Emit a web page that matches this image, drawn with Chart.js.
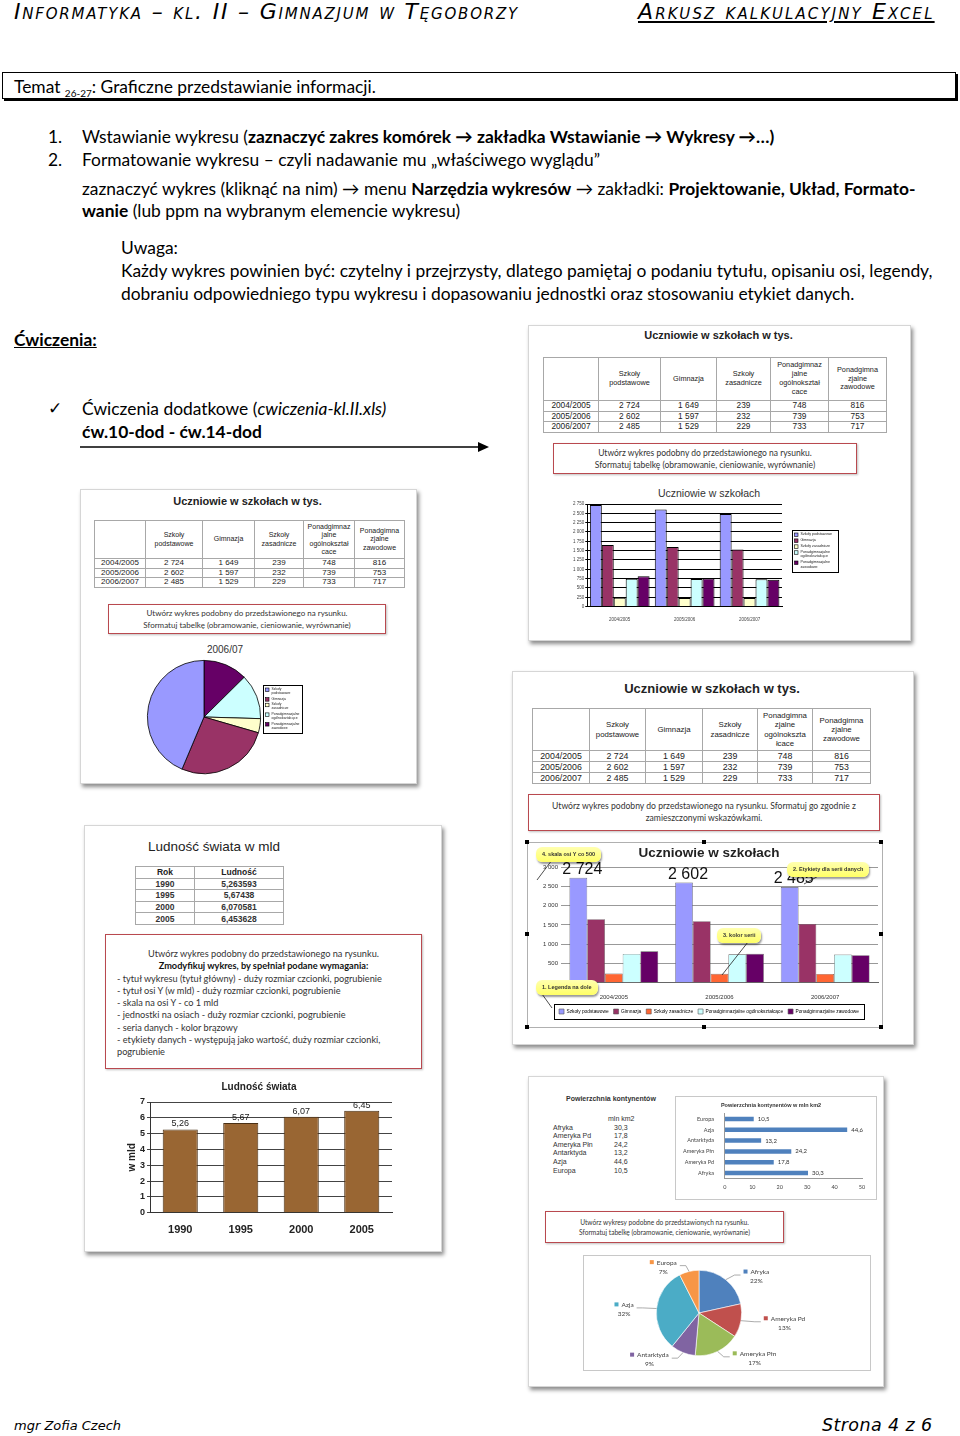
<!DOCTYPE html>
<html lang="pl">
<head>
<meta charset="utf-8">
<title>Graficzne przedstawianie informacji</title>
<script src="https://cdn.jsdelivr.net/npm/chart.js@4.4.1/dist/chart.umd.min.js"></script>
<style>
  html, body { margin: 0; padding: 0; }
  body { width: 960px; height: 1436px; position: relative; overflow: hidden; background: #fff;
         font-family: Lato, "Open Sans", sans-serif; color: #000; }
  .abs { position: absolute; white-space: nowrap; }
  .hdr { font-family: "DejaVu Sans", sans-serif; font-style: italic; font-variant: small-caps; font-size: 22px; line-height: 24px; letter-spacing: 2.1px; }
  .txt { font-size: 17.4px; line-height: 22px; }
  .temat { left: 2px; top: 72px; width: 952px; height: 25px; border: 1.5px solid #000; box-shadow: 2px 2px 0 #000; }
  .panel { position: absolute; background: #fff; border: 1px solid #d6d6d6; box-shadow: 2px 3px 4px rgba(0,0,0,0.45); }
  .arial { font-family: "Liberation Sans", Arial, sans-serif; }
  table.xl { position: absolute; border-collapse: collapse; font-family: "Liberation Sans", Arial, sans-serif; color: #222; table-layout: fixed; }
  table.xl td { border: 1px solid #a8a8a8; text-align: center; padding: 0; overflow: hidden; }
  .redbox { position: absolute; border: 1.5px solid #b9494f; box-shadow: 1px 1px 2px rgba(0,0,0,0.25); background: #fff;
            font-family: Lato, sans-serif; color: #333; text-align: center; }
  .note { position: absolute; background: linear-gradient(#ffffb0, #ffff66); border-radius: 6px; box-shadow: 1px 2px 2px rgba(0,0,0,0.4);
          font-family: "Liberation Sans", Arial, sans-serif; font-weight: bold; font-size: 5.5px; color: #333; padding: 0 6px; line-height: 15px; white-space: nowrap; }
  canvas { position: absolute; }
</style>
</head>
<body>

<!-- naglowek -->
<div class="abs hdr" style="left:14px; top:0px; letter-spacing:1.8px;">Informatyka – kl. II – Gimnazjum w Tęgoborzy</div>
<div class="abs hdr" style="left:638px; top:0px; text-decoration: underline;">Arkusz kalkulacyjny Excel</div>

<div class="abs temat"></div>
<div class="abs txt" style="left:14px; top:76px;">Temat <sub style="font-size:10px">26-27</sub>: Graficzne przedstawianie informacji.</div>

<div class="abs txt" style="left:48px; top:126px;">1.</div>
<div class="abs txt" style="left:82px; top:126px;">Wstawianie wykresu (<b>zaznaczyć zakres komórek → zakładka Wstawianie → Wykresy →…)</b></div>
<div class="abs txt" style="left:48px; top:149px;">2.</div>
<div class="abs txt" style="left:82px; top:149px;">Formatowanie wykresu – czyli nadawanie mu „właściwego wyglądu”</div>
<div class="abs txt" style="left:82px; top:178px;">zaznaczyć wykres (kliknąć na nim) → menu <b>Narzędzia wykresów</b> → zakładki: <b>Projektowanie, Układ, Formato-</b></div>
<div class="abs txt" style="left:82px; top:200px;"><b>wanie</b> (lub ppm na wybranym elemencie wykresu)</div>
<div class="abs txt" style="left:121px; top:237px;">Uwaga:</div>
<div class="abs txt" style="left:121px; top:260px;">Każdy wykres powinien być: czytelny i przejrzysty, dlatego pamiętaj o podaniu tytułu, opisaniu osi, legendy,</div>
<div class="abs txt" style="left:121px; top:283px;">dobraniu odpowiedniego typu wykresu i dopasowaniu jednostki oraz stosowaniu etykiet danych.</div>

<div class="abs txt" style="left:14px; top:329px; font-weight:bold; text-decoration:underline;">Ćwiczenia:</div>
<div class="abs txt" style="left:48px; top:397px;">✓</div>
<div class="abs txt" style="left:82px; top:398px;">Ćwiczenia dodatkowe (<i>cwiczenia-kl.II.xls)</i></div>
<div class="abs txt" style="left:82px; top:421px; font-weight:bold;">ćw.10-dod - ćw.14-dod</div>
<svg class="abs" style="left:78px; top:440px;" width="414" height="14">
  <line x1="2" y1="7" x2="402" y2="7" stroke="#000" stroke-width="1.5"/>
  <polygon points="400,2 411,7 400,12" fill="#000"/>
</svg>

<!-- panel A -->
<div class="panel" style="left:528px; top:325px; width:381px; height:314px;"></div>
<div class="abs arial" style="left:528px; top:329px; width:381px; text-align:center; font-weight:bold; font-size:11px; color:#222;">Uczniowie w szkołach w tys.</div>
<table class="xl" id="tabA" style="left:543px; top:357px; width:343px;"></table>
<div class="redbox" style="left:553px; top:443px; width:304px; height:31px; font-size:8.5px; line-height:12px; padding-top:3px; box-sizing:border-box;">Utwórz wykres podobny do przedstawionego na rysunku.<br>Sformatuj tabelkę (obramowanie, cieniowanie, wyrównanie)</div>
<div class="abs arial" style="left:609px; top:487px; width:200px; text-align:center; font-size:10.5px; color:#333;">Uczniowie w szkołach</div>
<canvas id="chartA" width="290" height="142" style="left:556px; top:484px;"></canvas>

<!-- panel B -->
<div class="panel" style="left:80px; top:489px; width:335px; height:293px;"></div>
<div class="abs arial" style="left:80px; top:495px; width:335px; text-align:center; font-weight:bold; font-size:11px; color:#222;">Uczniowie w szkołach w tys.</div>
<table class="xl" id="tabB" style="left:94px; top:520px; width:310px;"></table>
<div class="redbox" style="left:108px; top:604px; width:278px; height:30px; font-size:8px; line-height:11.5px; padding-top:3px; box-sizing:border-box;">Utwórz wykres podobny do przedstawionego na rysunku.<br>Sformatuj tabelkę (obramowanie, cieniowanie, wyrównanie)</div>
<div class="abs arial" style="left:175px; top:644px; width:100px; text-align:center; font-size:10px; color:#333;">2006/07</div>
<canvas id="chartB" width="180" height="138" style="left:132px; top:642px;"></canvas>

<!-- panel C -->
<div class="panel" style="left:84px; top:825px; width:356px; height:425px;"></div>
<div class="abs arial" style="left:148px; top:839px; font-size:13.5px; color:#222;">Ludność świata w mld</div>
<table class="xl" id="tabC" style="left:135px; top:866px; width:148px;"></table>
<div class="redbox" style="left:105px; top:934px; width:317px; height:135px; font-size:9.2px; line-height:12.3px; padding:13px 0 0 11px; box-sizing:border-box; text-align:left;">
  <div style="text-align:center; margin-left:-11px;">Utwórz wykres podobny do przedstawionego na rysunku.</div>
  <div style="text-align:center; margin-left:-11px; font-weight:bold; color:#111;">Zmodyfikuj wykres, by spełniał podane wymagania:</div>
  <div>- tytuł wykresu (tytuł główny) - duży rozmiar czcionki, pogrubienie</div>
  <div>- tytuł osi Y (w mld) - duży rozmiar czcionki, pogrubienie</div>
  <div>- skala na osi Y - co 1 mld</div>
  <div>- jednostki na osiach - duży rozmiar czcionki, pogrubienie</div>
  <div>- seria danych - kolor brązowy</div>
  <div>- etykiety danych - występują jako wartość, duży rozmiar czcionki,</div>
  <div>pogrubienie</div>
</div>
<canvas id="chartC" width="290" height="166" style="left:112px; top:1078px;"></canvas>

<!-- panel D -->
<div class="panel" style="left:512px; top:671px; width:400px; height:372px;"></div>
<div class="abs arial" style="left:512px; top:681px; width:400px; text-align:center; font-weight:bold; font-size:13px; color:#222;">Uczniowie w szkołach w tys.</div>
<table class="xl" id="tabD" style="left:532px; top:708px; width:338px;"></table>
<div class="redbox" style="left:528px; top:794px; width:352px; height:37px; font-size:8.6px; line-height:12px; padding-top:5px; box-sizing:border-box;">Utwórz wykres podobny do przedstawionego na rysunku. Sformatuj go zgodnie z<br>zamieszczonymi wskazówkami.</div>
<div class="abs" style="left:527px; top:842px; width:354px; height:184px; border:1px solid #b0b0b0;"></div>
<canvas id="chartD" width="352" height="183" style="left:528px; top:843px;"></canvas>
<svg class="abs" style="left:512px; top:838px;" width="400" height="200">
  <g fill="#000">
    <rect x="13" y="2" width="4" height="4"/><rect x="190" y="2" width="4" height="4"/><rect x="367" y="2" width="4" height="4"/>
    <rect x="13" y="94" width="4" height="4"/><rect x="367" y="94" width="4" height="4"/>
    <rect x="13" y="187" width="4" height="4"/><rect x="190" y="187" width="4" height="4"/><rect x="367" y="187" width="4" height="4"/>
  </g>
  <g stroke="#222" stroke-width="0.8" fill="none">
    <line x1="40" y1="22" x2="25" y2="42"/>
    <line x1="310" y1="36" x2="292" y2="46"/>
    <line x1="236" y1="104" x2="210" y2="137"/>
    <line x1="30" y1="156" x2="40" y2="170"/>
  </g>
</svg>
<div class="note" style="left:536px; top:847px;">4. skala osi Y co 500</div>
<div class="note" style="left:787px; top:862px;">2. Etykiety dla serii danych</div>
<div class="note" style="left:717px; top:928px;">3. kolor serii</div>
<div class="note" style="left:536px; top:980px;">1. Legenda na dole</div>

<!-- panel E -->
<div class="panel" style="left:528px; top:1076px; width:354px; height:309px;"></div>
<div class="abs arial" style="left:566px; top:1095px; font-size:7px; font-weight:bold; color:#333;">Powierzchnia kontynentów</div>
<div class="abs arial" id="tabE" style="left:553px; top:1115px; font-size:7px; color:#333; line-height:8.6px;"></div>
<div class="abs" style="left:675px; top:1096px; width:200px; height:102px; border:1px solid #c8c8c8;"></div>
<canvas id="chartE" width="198" height="100" style="left:676px; top:1097px;"></canvas>
<div class="redbox" style="left:545px; top:1211px; width:239px; height:32px; font-size:6.6px; line-height:9.5px; padding-top:6px; box-sizing:border-box;">Utwórz wykresy podobne do przedstawionych na rysunku.<br>Sformatuj tabelkę (obramowanie, cieniowanie, wyrównanie)</div>
<div class="abs" style="left:583px; top:1255px; width:286px; height:114px; border:1px solid #c8c8c8;"></div>
<canvas id="chartF" width="284" height="112" style="left:584px; top:1256px;"></canvas>

<!-- stopka -->
<div class="abs" style="left:14px; top:1418px; font-family:'DejaVu Sans', sans-serif; font-style:italic; font-size:13px;">mgr Zofia Czech</div>
<div class="abs" style="left:822px; top:1415px; font-family:'DejaVu Sans', sans-serif; font-style:italic; font-size:17.5px; letter-spacing:0.4px;">Strona 4 z 6</div>

<script>
// dane
const years = ['2004/2005', '2005/2006', '2006/2007'];
const schoolTypes = ['Szkoły podstawowe', 'Gimnazja', 'Szkoły zasadnicze', 'Ponadgimnazjalne ogólnokształcące', 'Ponadgimnazjalne zawodowe'];
const podstawowe = [2724, 2602, 2485];
const gimnazja = [1649, 1597, 1529];
const zasadnicze = [239, 232, 229];
const ogolnoksztalcace = [748, 739, 733];
const zawodowe = [816, 753, 717];

const popYears = ['1990', '1995', '2000', '2005'];
const population = [5.263593, 5.67438, 6.070581, 6.453628];

const continents = ['Afryka', 'Ameryka Pd', 'Ameryka Płn', 'Antarktyda', 'Azja', 'Europa'];
const areas = [30.3, 17.8, 24.2, 13.2, 44.6, 10.5];

const series = [podstawowe, gimnazja, zasadnicze, ogolnoksztalcace, zawodowe];
const colors2003 = ['#9999FF', '#993366', '#FFFFCC', '#CCFFFF', '#660066'];
const colorsD = ['#9999FF', '#993366', '#FF6633', '#CCFFFF', '#660066'];
const colors2007 = ['#4F81BD', '#C0504D', '#9BBB59', '#8064A2', '#4BACC6', '#F79646'];

const fmt = n => String(n).replace(/\B(?=(\d{3})+(?!\d))/g, ' ');
const comma = (v, d) => (d === undefined ? String(v) : v.toFixed(d)).replace('.', ',');

// tabelki
function schoolTable(id, widths, headH, rowH, fs, headers) {
    const t = document.getElementById(id);
    let html = '<colgroup>' + widths.map(w => `<col style="width:${w}px">`).join('') + '</colgroup>';
    html += `<tr style="height:${headH}px"><td></td>` + headers.map(h => `<td style="font-size:${fs}px;line-height:${fs + 1.5}px">${h}</td>`).join('') + '</tr>';
    years.forEach((y, i) => {
        html += `<tr style="height:${rowH}px;font-size:${fs + 1}px;line-height:${rowH - 1}px"><td>${y}</td>` + series.map(s => `<td>${fmt(s[i])}</td>`).join('') + '</tr>';
    });
    t.innerHTML = html;
}
const headA = ['Szkoły<br>podstawowe', 'Gimnazja', 'Szkoły<br>zasadnicze', 'Ponadgimnaz<br>jalne<br>ogólnokształ<br>cace', 'Ponadgimna<br>zjalne<br>zawodowe'];
const headD = ['Szkoły<br>podstawowe', 'Gimnazja', 'Szkoły<br>zasadnicze', 'Ponadgimna<br>zjalne<br>ogólnoksztа<br>łcace', 'Ponadgimna<br>zjalne<br>zawodowe'];
schoolTable('tabA', [55, 62, 56, 54, 58, 58], 43, 10.6, 7.3, headA);
schoolTable('tabB', [51, 57, 52, 49, 51, 50], 38, 9.7, 7, headA);
schoolTable('tabD', [57, 56, 57, 55, 55, 58], 42, 11, 7.8, headD.map(h => h.replace('\u0430', 'a')));

(function () {
    const t = document.getElementById('tabC');
    let html = '<colgroup><col style="width:59px"><col style="width:89px"></colgroup>';
    html += '<tr style="height:11.6px;font-size:8.5px;line-height:10px;font-weight:bold"><td>Rok</td><td>Ludność</td></tr>';
    popYears.forEach((y, i) => {
        html += `<tr style="height:11.6px;font-size:8.5px;line-height:10px;font-weight:bold;color:#333"><td>${y}</td><td>${comma(population[i])}</td></tr>`;
    });
    t.innerHTML = html;
    const e = document.getElementById('tabE');
    let rows = '<div style="margin-left:55px">mln km2</div>';
    continents.forEach((c, i) => {
        rows += `<div><span style="display:inline-block;width:61px">${c}</span>${comma(areas[i])}</div>`;
    });
    e.innerHTML = rows;
})();

// wtyczki
// ramka wokol legendy Chart.js (tylko wokol pozycji)
const legendFrame = {
    id: 'legendFrame',
    afterDraw(chart) {
        const l = chart.legend;
        if (!l || !l.options.display || !l.legendHitBoxes.length) return;
        const hb = l.legendHitBoxes;
        const x0 = Math.min(...hb.map(b => b.left)) - 5;
        const x1 = Math.max(...hb.map(b => b.left + b.width)) + 5;
        const y0 = Math.min(...hb.map(b => b.top)) - 5;
        const y1 = Math.max(...hb.map(b => b.top + b.height)) + 5;
        const ctx = chart.ctx;
        ctx.save();
        ctx.strokeStyle = '#000';
        ctx.lineWidth = 1;
        ctx.strokeRect(Math.round(x0) + 0.5, Math.round(y0) + 0.5, Math.round(x1 - x0), Math.round(y1 - y0));
        ctx.restore();
    }
};

// legenda w ramce z zawijanym tekstem (styl Excela 2003)
function boxLegend(opt) {
    return {
        id: 'boxLegend',
        afterDraw(chart) {
            const ctx = chart.ctx;
            let items;
            if (chart.config.type === 'pie') {
                const ds = chart.data.datasets[0];
                items = chart.data.labels.map((t, i) => ({ text: t, color: ds.backgroundColor[i] }));
                if (opt.reverse) items.reverse();
            } else {
                items = chart.data.datasets.map(d => ({ text: d.label, color: d.backgroundColor }));
            }
            ctx.save();
            ctx.font = opt.fontSize + 'px "Liberation Sans", Arial, sans-serif';
            const lineH = opt.fontSize * 1.2;
            const wrapped = items.map(it => {
                const lines = [];
                let cur = '';
                it.text.split(' ').forEach(w => {
                    const t = cur ? cur + ' ' + w : w;
                    if (cur && ctx.measureText(t).width > opt.maxWidth) { lines.push(cur); cur = w; } else cur = t;
                });
                lines.push(cur);
                return { color: it.color, lines };
            });
            const inner = wrapped.reduce((s, it) => s + Math.max(it.lines.length * lineH, opt.box) + opt.gap, 0) - opt.gap;
            const h = Math.round(inner + 2 * opt.pad);
            const ca = chart.chartArea;
            const x = opt.x;
            const y = Math.round((ca.top + ca.bottom) / 2 - h / 2 + (opt.dy || 0));
            ctx.fillStyle = '#fff';
            ctx.fillRect(x, y, opt.width, h);
            ctx.strokeStyle = '#000';
            ctx.lineWidth = 1;
            ctx.strokeRect(x + 0.5, y + 0.5, opt.width, h);
            let cy = y + opt.pad;
            wrapped.forEach(it => {
                ctx.fillStyle = it.color;
                ctx.fillRect(x + opt.pad, cy + 0.5, opt.box, opt.box);
                ctx.lineWidth = 0.6;
                ctx.strokeRect(x + opt.pad, cy + 0.5, opt.box, opt.box);
                ctx.fillStyle = '#222';
                ctx.textBaseline = 'top';
                ctx.textAlign = 'left';
                it.lines.forEach((ln, k) => ctx.fillText(ln, x + opt.pad + opt.box + 2.5, cy + k * lineH));
                cy += Math.max(it.lines.length * lineH, opt.box) + opt.gap;
            });
            ctx.restore();
        }
    };
}

function barLabels(dsIndexes, font, format, offset, color, dx) {
    return {
        id: 'barLabels',
        afterDatasetsDraw(chart) {
            const ctx = chart.ctx;
            ctx.save();
            ctx.font = font;
            ctx.fillStyle = color || '#000';
            dsIndexes.forEach(di => {
                chart.getDatasetMeta(di).data.forEach((el, i) => {
                    const txt = format(chart.data.datasets[di].data[i]);
                    if (chart.options.indexAxis === 'y') {
                        ctx.textAlign = 'left'; ctx.textBaseline = 'middle';
                        ctx.fillText(txt, el.x + offset, el.y);
                    } else {
                        ctx.textAlign = 'center'; ctx.textBaseline = 'bottom';
                        ctx.fillText(txt, el.x + (dx || 0), el.y - offset);
                    }
                });
            });
            ctx.restore();
        }
    };
}

const pieCallouts = {
    id: 'pieCallouts',
    afterDatasetsDraw(chart) {
        const ctx = chart.ctx;
        const ds = chart.data.datasets[0];
        const total = ds.data.reduce((a, b) => a + b, 0);
        ctx.save();
        ctx.font = '6.5px Lato, sans-serif';
        ctx.lineWidth = 0.7;
        chart.getDatasetMeta(0).data.forEach((arc, i) => {
            const mid = (arc.startAngle + arc.endAngle) / 2;
            const r = arc.outerRadius;
            const cx = Math.cos(mid), cy = Math.sin(mid);
            const x0 = arc.x + cx * r, y0 = arc.y + cy * r;
            const x1 = arc.x + cx * (r + 14), y1 = arc.y + cy * (r + 6);
            const right = cx >= 0;
            const x2 = x1 + (right ? 6 : -6);
            ctx.strokeStyle = '#888';
            ctx.beginPath(); ctx.moveTo(x0, y0); ctx.lineTo(x1, y1); ctx.lineTo(x2, y1); ctx.stroke();
            const name = chart.data.labels[i];
            const pct = Math.round(ds.data[i] / total * 100) + '%';
            const w = ctx.measureText(name).width + 7;
            const lx = right ? x2 + 3 : x2 - 3 - w;
            const ly = y1 - 3;
            ctx.fillStyle = ds.backgroundColor[i];
            ctx.fillRect(lx, ly - 2.5, 4, 4);
            ctx.fillStyle = '#404040';
            ctx.textBaseline = 'middle';
            ctx.textAlign = 'left';
            ctx.fillText(name, lx + 7, ly);
            ctx.textAlign = 'center';
            ctx.fillText(pct, lx + w / 2, ly + 9);
        });
        ctx.restore();
    }
};

Chart.defaults.font.family = '"Liberation Sans", Arial, sans-serif';
Chart.defaults.color = '#000';
Chart.defaults.animation = false;

// wykres A - slupki, legenda z prawej (tytul nad canvasem w HTML)
new Chart(document.getElementById('chartA'), {
    type: 'bar',
    data: {
        labels: years,
        datasets: schoolTypes.map((name, i) => ({
            label: name, data: series[i], backgroundColor: colors2003[i],
            borderColor: '#000', borderWidth: 1, categoryPercentage: 0.92, barPercentage: 1
        }))
    },
    options: {
        responsive: false,
        layout: { padding: { left: 16, right: 64, top: 20, bottom: 2 } },
        plugins: {
            legend: { display: false },
            tooltip: { enabled: false }
        },
        scales: {
            x: { grid: { display: false }, border: { color: '#000' }, ticks: { font: { size: 4.5 }, color: '#444', padding: 2 } },
            y: { min: 0, max: 2750, grid: { color: '#000', tickLength: 2 }, border: { color: '#000' },
                 ticks: { stepSize: 250, font: { size: 4.5 }, color: '#444', padding: 1, callback: v => fmt(v) } }
        }
    },
    plugins: [boxLegend({ x: 236, width: 46, fontSize: 3.6, maxWidth: 36, box: 3.5, gap: 1.6, pad: 2.5, dy: -4 })]
});

// wykres B - kolowy 2006/07 (Excel rysuje w przeciwnym kierunku, stad odwrocenie)
const i07 = 2;
new Chart(document.getElementById('chartB'), {
    type: 'pie',
    data: {
        labels: schoolTypes.slice().reverse(),
        datasets: [{
            data: series.map(s => s[i07]).reverse(),
            backgroundColor: colors2003.slice().reverse(),
            borderColor: '#000', borderWidth: 0.8
        }]
    },
    options: {
        responsive: false,
        layout: { padding: { left: 14, right: 50, top: 18, bottom: 6 } },
        plugins: {
            legend: { display: false },
            tooltip: { enabled: false }
        }
    },
    plugins: [boxLegend({ x: 131, width: 39, fontSize: 3.4, maxWidth: 27, box: 3.5, gap: 1.5, pad: 2.5, reverse: true, dy: -8 })]
});

// wykres C - ludnosc swiata
new Chart(document.getElementById('chartC'), {
    type: 'bar',
    data: {
        labels: popYears,
        datasets: [{ label: 'Ludność', data: population, backgroundColor: '#996633', borderColor: '#4a3015', borderWidth: 1,
                     categoryPercentage: 1, barPercentage: 0.58 }]
    },
    options: {
        responsive: false,
        layout: { padding: { left: 14, right: 10, top: 0, bottom: 4 } },
        plugins: {
            title: { display: true, text: 'Ludność świata', font: { size: 10, weight: 'bold' }, color: '#222', padding: { top: 3, bottom: 9 } },
            legend: { display: false },
            tooltip: { enabled: false }
        },
        scales: {
            x: { grid: { display: false }, border: { color: '#333' }, ticks: { font: { size: 11, weight: 'bold' }, color: '#222', padding: 3 } },
            y: { min: 0, max: 7, grid: { color: '#444', tickLength: 3 }, border: { color: '#333' },
                 title: { display: true, text: 'w mld', font: { size: 10, weight: 'bold' }, color: '#222', padding: 0 },
                 ticks: { stepSize: 1, font: { size: 9, weight: 'bold' }, color: '#222', padding: 2 } }
        }
    },
    plugins: [barLabels([0], '9px "Liberation Sans", Arial, sans-serif', v => comma(v, 2), 1, '#222')]
});

// wykres D - slupki, legenda na dole, etykiety dla pierwszej serii
new Chart(document.getElementById('chartD'), {
    type: 'bar',
    data: {
        labels: years,
        datasets: schoolTypes.map((name, i) => ({
            label: name, data: series[i], backgroundColor: colorsD[i],
            borderColor: '#555', borderWidth: 0.6, categoryPercentage: 0.84, barPercentage: 1
        }))
    },
    options: {
        responsive: false,
        layout: { padding: { left: 12, right: 2, top: 0, bottom: 2 } },
        plugins: {
            title: { display: true, text: 'Uczniowie w szkołach', font: { size: 13.5 }, color: '#222', padding: { top: 2, bottom: 6 } },
            legend: { position: 'bottom', labels: { boxWidth: 5, boxHeight: 5, font: { size: 4.8 }, padding: 5 } },
            tooltip: { enabled: false }
        },
        scales: {
            x: { grid: { display: false }, border: { color: '#666' }, ticks: { font: { size: 6 }, color: '#333', padding: 3 } },
            y: { min: 0, max: 3000, grid: { color: '#999', tickLength: 0 }, border: { display: false },
                 ticks: { stepSize: 500, font: { size: 6 }, color: '#333', padding: 3, callback: v => fmt(v) } }
        }
    },
    plugins: [legendFrame, barLabels([0], '16px "Liberation Sans", Arial, sans-serif', fmt, 0, '#111', 4)]
});

// wykres E - powierzchnia kontynentow (poziomy)
new Chart(document.getElementById('chartE'), {
    type: 'bar',
    data: {
        labels: continents,
        datasets: [{ label: 'mln km2', data: areas, backgroundColor: '#4F81BD', categoryPercentage: 1, barPercentage: 0.42 }]
    },
    options: {
        responsive: false,
        indexAxis: 'y',
        layout: { padding: { left: 4, right: 12, top: 0, bottom: 3 } },
        plugins: {
            title: { display: true, text: 'Powierzchnia kontynentów w mln km2', font: { size: 5.5, weight: 'bold' }, color: '#333', padding: { top: 5, bottom: 5 } },
            legend: { display: false },
            tooltip: { enabled: false }
        },
        scales: {
            x: { min: 0, max: 50, grid: { display: false, tickLength: 3 }, border: { color: '#999' },
                 ticks: { stepSize: 10, font: { size: 5.5, family: 'Lato, sans-serif' }, color: '#444', padding: 3 } },
            y: { reverse: true, grid: { display: false }, border: { color: '#999' },
                 ticks: { font: { size: 5.5, family: 'Lato, sans-serif' }, color: '#444', padding: 3 } }
        }
    },
    plugins: [barLabels([0], '6px Lato, sans-serif', v => comma(v), 4, '#333')]
});

// wykres F - kolowy kontynenty
new Chart(document.getElementById('chartF'), {
    type: 'pie',
    data: {
        labels: continents,
        datasets: [{ data: areas, backgroundColor: colors2007, borderColor: '#fff', borderWidth: 0.6 }]
    },
    options: {
        responsive: false,
        layout: { padding: { left: 72, right: 126, top: 14, bottom: 12 } },
        plugins: { legend: { display: false }, tooltip: { enabled: false } }
    },
    plugins: [pieCallouts]
});
</script>
</body>
</html>
